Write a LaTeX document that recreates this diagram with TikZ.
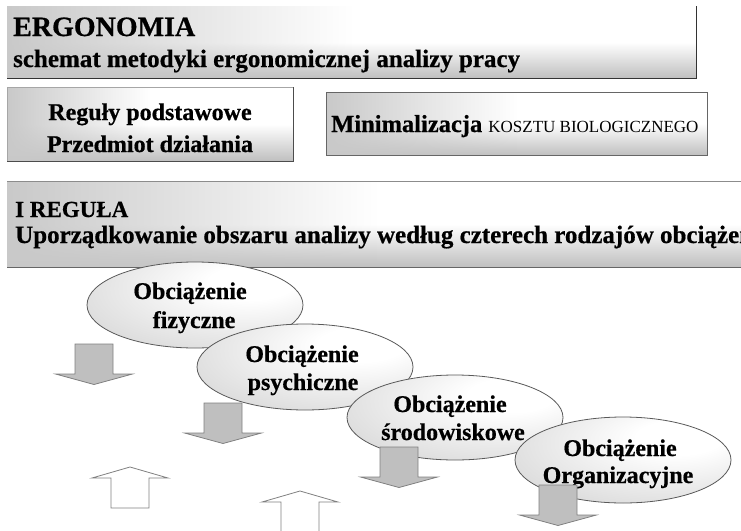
\documentclass[tikz,border=0pt]{standalone}
\usepackage{fontspec}
\setmainfont{Liberation Serif}[BoldFeatures={FakeBold=0.6}]
\usetikzlibrary{shapes.geometric,fadings}
\tikzfading[name=fadeL, left color=transparent!0, right color=transparent!100, middle color=transparent!100]
\pgfdeclareradialshading{ellshade}{\pgfpoint{15bp}{15bp}}{color(0bp)=(white); color(10bp)=(white); color(60bp)=(gray!50); color(80bp)=(gray!55)}
\begin{document}
\begin{tikzpicture}[x=1pt,y=-1pt,
  box/.style={rectangle, inner sep=0pt, anchor=north west, top color=white, bottom color=gray!50, middle color=white,
    postaction={fill=gray!42, path fading=fadeL}},
  bsz/.style={inner sep=0pt, font=\fontsize{#1}{#1}\selectfont\bfseries},
  ell/.style={ellipse, draw=black!65, line width=0.8pt, shading=ellshade, minimum width=216pt, minimum height=86pt, inner sep=0pt},
  darr/.style={draw=black!50, fill=gray!50, line width=0.8pt, line join=miter},
  uarr/.style={draw=black!50, fill=white, line width=0.8pt, line join=miter},
  downarrow/.pic={\path[darr] (-19,0) -- (19,0) -- (19,30) -- (38.5,30) -- (0,40.5) -- (-38.5,30) -- (-19,30) -- cycle;},
  uparrow/.pic={\path[uarr] (0,0) -- (38,11) -- (19,11) -- (19,41) -- (-19,41) -- (-19,11) -- (-38,11) -- cycle;}
]
\useasboundingbox (0,0) rectangle (741,530);
\clip (0,0) rectangle (741,530);

% top title box
\node[box, minimum width=689pt, minimum height=72pt] (topbox) at (7,6) {};
\draw[black!80, line width=1pt] (topbox.north east) -- (topbox.south east) -- (topbox.south west);
\node[bsz=28, anchor=base west] (ergo) at (13,36) {ERGONOMIA};
\node[bsz=25, anchor=base west] (sub) at (13,67) {schemat metodyki ergonomicznej analizy pracy};

% second row boxes
\node[box, minimum width=286pt, minimum height=74pt] (lbox) at (7,87) {};
\draw[black!35, line width=0.8pt] (lbox.south west) -- (lbox.north west) -- (lbox.north east);
\draw[black!70, line width=1pt] (lbox.north east) -- (lbox.south east) -- (lbox.south west);
\node[bsz=24, anchor=base] (reg) at (150,120) {Reguły podstawowe};
\node[bsz=24, anchor=base] (prz) at (150,152) {Przedmiot działania};

\node[box, minimum width=381pt, minimum height=63pt] (rbox) at (326,92) {};
\draw[black!60, line width=0.8pt] (rbox.north west) rectangle (rbox.south east);
\node[bsz=24.5, anchor=base west] (mini) at (331,132) {Minimalizacja {\fontsize{17}{17}\selectfont\mdseries KOSZTU BIOLOGICZNEGO}};

% band
\node[box, minimum width=740pt, minimum height=86pt] (band) at (7,181) {};
\draw[black!45, line width=1pt] (band.north west) -- (band.north east);
\draw[black!60, line width=1pt] (band.south west) -- (band.south east);
\node[bsz=23, anchor=base west] (reg1) at (15,217) {I REGUŁA};
\node[bsz=25, anchor=base west] (upo) at (15,243) {Uporządkowanie obszaru analizy według czterech rodzajów obciążeń};

% ellipses
\node[ell] (e1) at (195,305) {};
\node[ell] (e2) at (305,367) {};
\node[ell, minimum height=85pt] (e3) at (455,417.5) {};
\node[ell] (e4) at (623,460) {};

\node[bsz=24, anchor=base] (e1a) at (190,299) {Obciążenie};
\node[bsz=24, anchor=base] (e1b) at (194,328) {fizyczne};
\node[bsz=24, anchor=base] (e2a) at (302,362) {Obciążenie};
\node[bsz=24, anchor=base] (e2b) at (303,390) {psychiczne};
\node[bsz=24, anchor=base] (e3a) at (450,412) {Obciążenie};
\node[bsz=24, anchor=base] (e3b) at (453,440) {środowiskowe};
\node[bsz=24, anchor=base] (e4a) at (620,456) {Obciążenie};
\node[bsz=24, anchor=base] (e4b) at (618,483) {Organizacyjne};

% block arrows
\pic (a1) at (94,344) {downarrow};
\pic (a2) at (223,403) {downarrow};
\pic (a3) at (399,447) {downarrow};
\pic (a4) at (558,485) {downarrow};
\pic (u1) at (130,467) {uparrow};
\pic (u2) at (300,491) {uparrow};
\end{tikzpicture}
\end{document}
